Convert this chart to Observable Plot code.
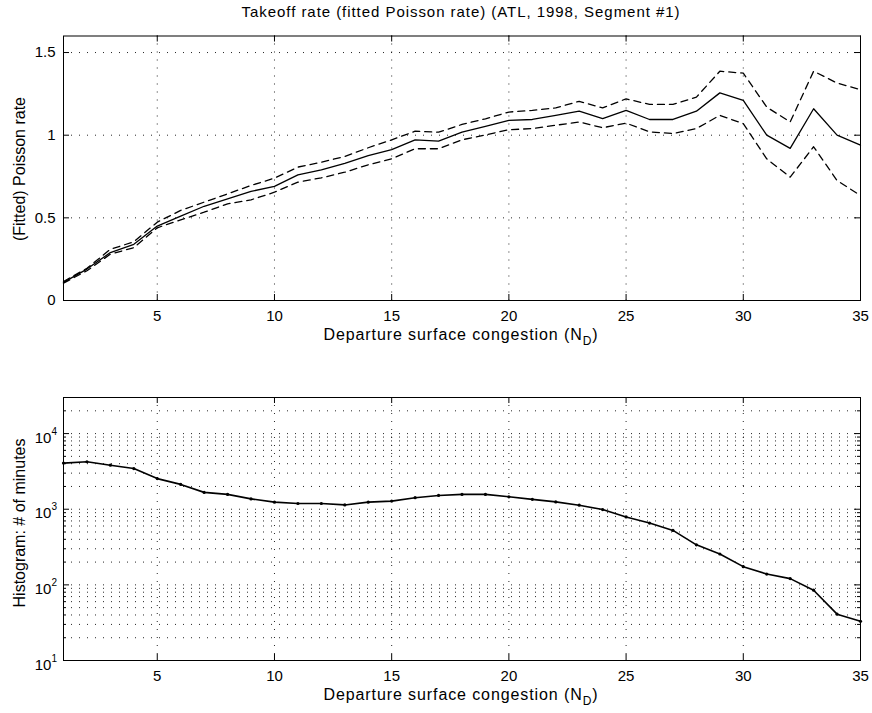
<!DOCTYPE html>
<html><head><meta charset="utf-8">
<script src="https://cdn.jsdelivr.net/npm/d3@7"></script>
<script src="https://cdn.jsdelivr.net/npm/@observablehq/plot@0.6"></script>
<style>
body{margin:0;background:#fff;}
#wrap{position:relative;width:872px;height:713px;background:#fff;font-family:"Liberation Sans",Arial,sans-serif;}
#wrap svg{position:absolute;left:0;overflow:visible;}
</style></head><body><div id="wrap"></div>
<script>
// ---- data ----
const congestion = [1,2,3,4,5,6,7,8,9,10,11,12,13,14,15,16,17,18,19,20,21,22,23,24,25,26,27,28,29,30,31,32,33,34,35];
const rateFit   = [0.11,0.19,0.29,0.34,0.45,0.51,0.57,0.615,0.66,0.69,0.76,0.79,0.83,0.877,0.913,0.972,0.964,1.018,1.053,1.089,1.095,1.12,1.145,1.10,1.15,1.095,1.095,1.145,1.256,1.21,1.00,0.92,1.16,1.00,0.94];
const rateUpper = [0.115,0.195,0.31,0.355,0.474,0.545,0.595,0.645,0.696,0.74,0.807,0.837,0.871,0.924,0.972,1.024,1.018,1.065,1.099,1.14,1.15,1.165,1.205,1.165,1.22,1.186,1.186,1.23,1.387,1.375,1.17,1.08,1.387,1.315,1.275];
const rateLower = [0.105,0.18,0.28,0.32,0.44,0.488,0.534,0.585,0.609,0.655,0.716,0.742,0.776,0.821,0.857,0.918,0.918,0.972,1.002,1.033,1.04,1.06,1.08,1.045,1.073,1.02,1.01,1.04,1.12,1.07,0.857,0.746,0.93,0.726,0.635];
const minutes   = [4070,4240,3820,3450,2540,2130,1670,1570,1370,1240,1190,1190,1140,1240,1280,1420,1520,1570,1570,1460,1350,1250,1130,990,790,656,525,338,256,174,139,121,85,41,33];

const xTicks = [5,10,15,20,25,30,35];
const rateTicks = [0,0.5,1,1.5];
const decadeTicks = [10,100,1000,10000];
const decadeExp = ["1","2","3","4"];
const minorTicks = [20,30,40,50,60,70,80,90,200,300,400,500,600,700,800,900,2000,3000,4000,5000,6000,7000,8000,9000,20000];

const titleText = "Takeoff rate (fitted Poisson rate) (ATL, 1998, Segment #1)";
const xLabelMain = "Departure surface congestion (N";
const xLabelSub = "D";
const yLabelTop = "(Fitted) Poisson rate";
const yLabelBottom = "Histogram: # of minutes";

// ---- build ----
const rows = congestion.map((n, i) => ({n, fit: rateFit[i], upper: rateUpper[i], lower: rateLower[i], minutes: minutes[i]}));
const FONT = '"Liberation Sans", Arial, sans-serif';
const W = 872, ML = 63, MR = 12;
const PW = W - ML - MR;
const gridStyle = {stroke: "#000", strokeOpacity: 0.85, strokeWidth: 1, strokeDasharray: "1,7"};

function frameTicksX(ticks, ph) {
  return [
    Plot.tickX(ticks, {x: d => d, insetTop: ph - 6, stroke: "#000"}),
    Plot.tickX(ticks, {x: d => d, insetBottom: ph - 6, stroke: "#000"})
  ];
}
function frameTicksY(ticks, len) {
  return [
    Plot.tickY(ticks, {y: d => d, insetRight: PW - len, stroke: "#000"}),
    Plot.tickY(ticks, {y: d => d, insetLeft: PW - len, stroke: "#000"})
  ];
}

// top chart
const H1 = 345, MT1 = 35.5, MB1 = 45;
const PH1 = H1 - MT1 - MB1;
const topChart = Plot.plot({
  width: W, height: H1, marginTop: MT1, marginBottom: MB1, marginLeft: ML, marginRight: MR,
  style: {fontFamily: FONT, fontSize: "15px", color: "#000", background: "transparent", overflow: "visible"},
  x: {domain: [1, 35], label: null},
  y: {domain: [0, 1.6], label: null},
  marks: [
    Plot.gridX(xTicks.filter(v => v < 35), gridStyle),
    Plot.gridY(rateTicks.filter(v => v > 0), gridStyle),
    Plot.line(rows, {x: "n", y: "upper", stroke: "#000", strokeWidth: 1.3, strokeDasharray: "7,5"}),
    Plot.line(rows, {x: "n", y: "lower", stroke: "#000", strokeWidth: 1.3, strokeDasharray: "7,5"}),
    Plot.line(rows, {x: "n", y: "fit", stroke: "#000", strokeWidth: 1.3}),
    ...frameTicksX(xTicks, PH1),
    ...frameTicksY(rateTicks, 6),
    Plot.axisX(xTicks, {tickSize: 0, tickPadding: 10, fontSize: 15, label: null}),
    Plot.axisY(rateTicks, {tickSize: 0, tickPadding: 8, fontSize: 15, label: null, tickFormat: d => String(d)}),
    Plot.frame({stroke: "#000"})
  ]
});
topChart.style.top = "0px";

// bottom chart
const TOP2 = 345, H2 = 368, MT2 = 52, MB2 = 53;
const PH2 = H2 - MT2 - MB2;
const bottomChart = Plot.plot({
  width: W, height: H2, marginTop: MT2, marginBottom: MB2, marginLeft: ML, marginRight: MR,
  style: {fontFamily: FONT, fontSize: "15px", color: "#000", background: "transparent", overflow: "visible"},
  x: {domain: [1, 35], label: null},
  y: {type: "log", domain: [10, 30000], label: null, axis: null},
  marks: [
    Plot.gridX(xTicks.filter(v => v < 35), gridStyle),
    Plot.gridY(decadeTicks.filter(v => v > 10).concat(minorTicks), gridStyle),
    Plot.line(rows, {x: "n", y: "minutes", stroke: "#000", strokeWidth: 1.6}),
    Plot.dot(rows, {x: "n", y: "minutes", r: 1.6, fill: "#000", stroke: null}),
    ...frameTicksX(xTicks, PH2),
    ...frameTicksY(decadeTicks, 6),
    ...frameTicksY(minorTicks, 3),
    Plot.axisX(xTicks, {tickSize: 0, tickPadding: 10, fontSize: 15, label: null}),
    Plot.frame({stroke: "#000"})
  ]
});
bottomChart.style.top = TOP2 + "px";

const wrap = document.getElementById("wrap");
wrap.appendChild(topChart);
wrap.appendChild(bottomChart);

// text additions
const s1 = d3.select(topChart), s2 = d3.select(bottomChart);
function addText(sel, x, y, str, size, anchor, rotate) {
  const t = sel.append("text").attr("x", x).attr("y", y)
    .attr("font-family", FONT).attr("font-size", size).attr("fill", "#000")
    .attr("text-anchor", anchor || "middle").text(str);
  if (rotate) t.attr("transform", `rotate(${rotate},${x},${y})`);
  return t;
}
addText(s1, 461, 17, titleText, 15).attr("letter-spacing", 0.95);
function addXLabel(sel, y) {
  const t = sel.append("text").attr("x", 461).attr("y", y)
    .attr("font-family", FONT).attr("font-size", 16).attr("fill", "#000").attr("text-anchor", "middle")
    .attr("letter-spacing", 0.9);
  t.append("tspan").text(xLabelMain);
  t.append("tspan").attr("font-size", 12).attr("dy", 5).text(xLabelSub);
  t.append("tspan").attr("dy", -5).text(")");
}
addXLabel(s1, H1 - 5);
addXLabel(s2, H2 - 13);
addText(s1, 25, 169, yLabelTop, 16, "middle", -90);
addText(s2, 25, 523 - TOP2, yLabelBottom, 16, "middle", -90);

const ys = bottomChart.scale("y");
decadeTicks.forEach((v, i) => {
  const yy = ys.apply(v);
  const t = s2.append("text").attr("x", 57).attr("y", yy + 9.5)
    .attr("font-family", FONT).attr("font-size", 15).attr("fill", "#000").attr("text-anchor", "end");
  t.append("tspan").text("10");
  t.append("tspan").attr("font-size", 10).attr("dy", -8).text(decadeExp[i]);
});
</script>
</body></html>
